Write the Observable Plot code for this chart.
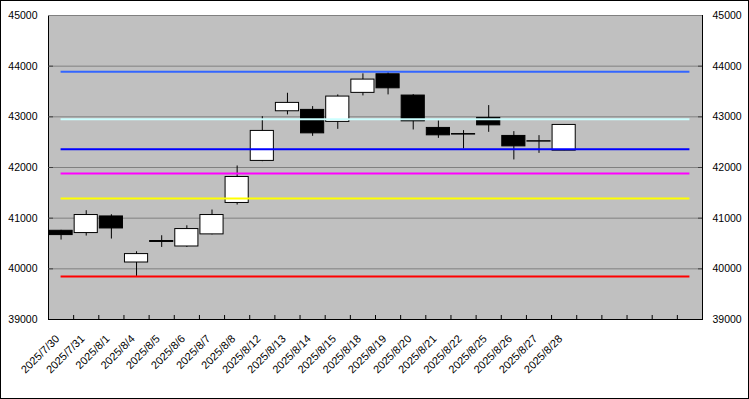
<!DOCTYPE html>
<html><head><meta charset="utf-8">
<script src="https://cdn.jsdelivr.net/npm/d3@7"></script>
<script src="https://cdn.jsdelivr.net/npm/@observablehq/plot@0.6"></script>
<style>body{margin:0;background:#fff;}</style>
</head><body><div id="chart"></div>
<script>
const dates = ["2025/7/30","2025/7/31","2025/8/1","2025/8/4","2025/8/5","2025/8/6","2025/8/7","2025/8/8","2025/8/12","2025/8/13","2025/8/14","2025/8/15","2025/8/18","2025/8/19","2025/8/20","2025/8/21","2025/8/22","2025/8/25","2025/8/26","2025/8/27","2025/8/28"];
const open  = [40751, 40706, 41034, 40125, 40530, 40441, 40680, 41300, 42130, 43110, 43137, 42900, 43473, 43840, 43420, 42781, 42660, 42979, 42623, 42510, 42332];
const close = [40666, 41062, 40797, 40291, 40549, 40785, 41062, 41813, 42722, 43275, 42674, 43400, 43735, 43563, 42911, 42635, 42650, 42832, 42417, 42520, 42840];
const high  = [40760, 41147, 41068, 40337, 40653, 40850, 41161, 42030, 43004, 43465, 43202, 43433, 43848, 43876, 43439, 42919, 42728, 43222, 42708, 42629, 42845];
const low   = [40568, 40647, 40588, 39850, 40422, 40422, 40670, 41259, 42115, 43038, 42615, 42753, 43413, 43433, 42741, 42575, 42366, 42694, 42149, 42279, 42330];
const levels = [43890, 42950, 42360, 41880, 41390, 39850];
const levelColors = ["#3366FF", "#CCFFFF", "#0000FF", "#FF00FF", "#FFFF00", "#FF0000"];
const yTicks = [39000, 40000, 41000, 42000, 43000, 44000, 45000];
const slotCount = 26;

const candles = dates.map((d, i) => ({i, date: d, open: open[i], close: close[i], high: high[i], low: low[i]}));
const boundaries = d3.range(1, slotCount).map(k => k - 0.5);
const levelData = levels.map((v, k) => ({v, color: levelColors[k]}));

const chart = Plot.plot({
  width: 749, height: 399,
  marginLeft: 48, marginRight: 47, marginTop: 15, marginBottom: 80,
  style: {fontFamily: "'Liberation Sans', Arial, sans-serif", fontSize: "10.5px", background: "white", overflow: "visible"},
  x: {type: "linear", domain: [-0.5, slotCount - 0.5], axis: null},
  y: {domain: [yTicks[0], yTicks[yTicks.length - 1]], axis: null},
  color: {type: "identity"},
  marks: [
    Plot.frame({fill: "#C0C0C0", stroke: "none"}),
    Plot.gridY(yTicks, {stroke: "#808080", strokeOpacity: 1}),
    Plot.ruleX(candles, {x: "i", y1: "low", y2: "high", stroke: "black"}),
    Plot.rect(candles, {x1: d => d.i - 0.46, x2: d => d.i + 0.46, y1: "open", y2: "close",
      fill: d => d.close >= d.open ? "white" : "black", stroke: "black"}),
    Plot.ruleY(levelData, {y: "v", x1: () => 0, x2: () => slotCount - 1, stroke: "color", strokeWidth: 2}),
    Plot.frame({stroke: "black", fill: "none"}),
    Plot.ruleY([yTicks[yTicks.length - 1]], {stroke: "#808080"}),
    Plot.ruleX(boundaries, {x: d => d, insetTop: 300, stroke: "black"}),
    Plot.ruleY(yTicks.slice(1, -1), {insetRight: 649, stroke: "#404040"}),
    Plot.ruleY(yTicks.slice(1, -1), {insetLeft: 650, stroke: "#404040"}),
    Plot.axisY(yTicks, {anchor: "left", tickSize: 0, tickPadding: 11, tickFormat: d => String(d), label: null}),
    Plot.axisY(yTicks, {anchor: "right", tickSize: 0, tickPadding: 10, tickFormat: d => String(d), label: null}),
    Plot.text(dates, {x: (d, i) => i, frameAnchor: "bottom", dy: 20, dx: -1, rotate: -45, textAnchor: "end", fontSize: 11, ariaLabel: "xlabels"})
  ]
});
d3.select(chart).selectAll("g[aria-label='xlabels'] text").attr("letter-spacing", "0.9px");
d3.select(chart).append("rect").attr("x", 0.5).attr("y", 0.5).attr("width", 748).attr("height", 398)
  .attr("fill", "none").attr("stroke", "black");
document.getElementById("chart").appendChild(chart);
</script>
</body></html>
